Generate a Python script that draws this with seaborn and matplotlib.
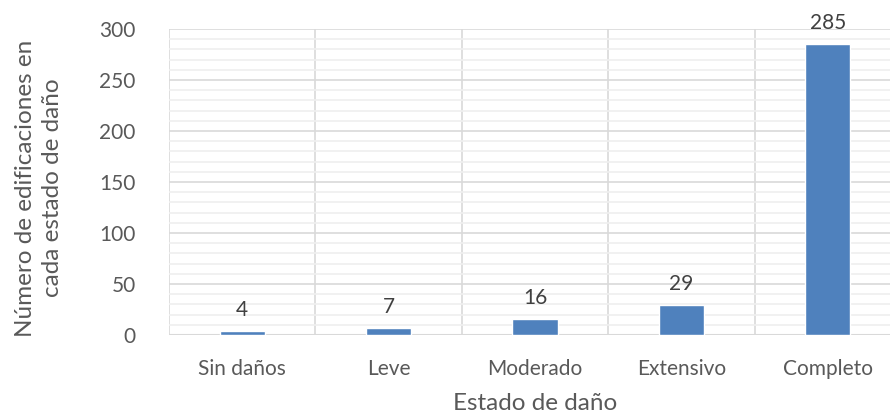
import matplotlib
matplotlib.use("Agg")
import matplotlib.pyplot as plt
import seaborn as sns
import pandas as pd
from matplotlib.ticker import MultipleLocator

# ========================
# Data
# ========================
categories = ["Sin daños", "Leve", "Moderado", "Extensivo", "Completo"]
counts = [4, 7, 16, 29, 285]

df = pd.DataFrame({"estado": categories, "n": counts})

TEXT = "#595959"
BAR = "#4F81BD"

sns.set_style("white")
plt.rcParams["font.family"] = ["Lato", "DejaVu Sans"]

fig = plt.figure(figsize=(8.9, 4.17), dpi=100)
ax = fig.add_axes([169 / 890, (417 - 335) / 417, 732 / 890, 306 / 417])

sns.barplot(data=df, x="estado", y="n", color=BAR, width=0.31,
            saturation=1, ax=ax, zorder=3)

for c in ax.containers:
    ax.bar_label(c, padding=8, fontsize=15, color="#404040")

ax.set_ylim(0, 300)
ax.set_xlim(-0.5, len(categories) - 0.5)
ax.yaxis.set_major_locator(MultipleLocator(50))
ax.yaxis.set_minor_locator(MultipleLocator(10))
ax.grid(axis="y", which="major", color="#d9d9d9", lw=1.2, zorder=0)
ax.grid(axis="y", which="minor", color="#efefef", lw=1.2, zorder=0)

# vertical lines between categories
ax.set_xticks(range(len(categories)))
ax.set_xticks([i - 0.5 for i in range(len(categories) + 1)], minor=True)
ax.grid(axis="x", which="minor", color="#d9d9d9", lw=1.2, zorder=0)
ax.grid(axis="x", which="major", visible=False)

for s in ax.spines.values():
    s.set_visible(False)
ax.axhline(0, color="#d9d9d9", lw=1.5, zorder=2)

ax.tick_params(axis="both", which="both", length=0)
ax.tick_params(axis="y", labelsize=15, labelcolor=TEXT, pad=24)
ax.tick_params(axis="x", labelsize=15, labelcolor=TEXT, pad=17)

ax.set_xlabel("Estado de daño", fontsize=17.5, color=TEXT)
ax.xaxis.set_label_coords(0.5, -0.19)
ax.set_ylabel("Número de edificaciones en\ncada estado de daño", fontsize=17.5,
              color=TEXT, linespacing=1.35)
ax.yaxis.set_label_coords(-0.145, 0.48)

plt.savefig("out.png", dpi=100)
